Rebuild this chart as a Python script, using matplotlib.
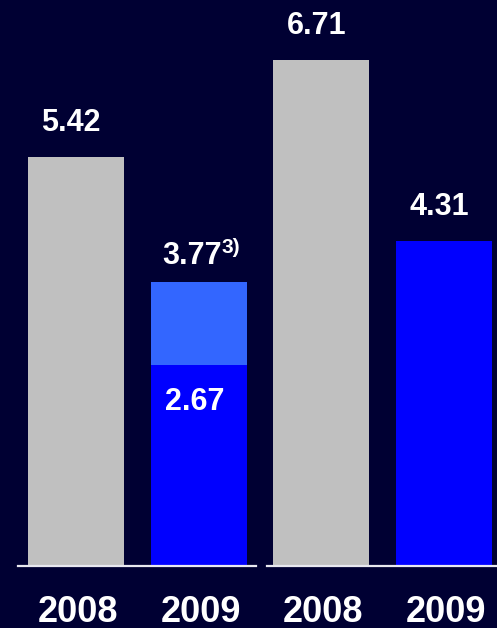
import matplotlib
matplotlib.use("Agg")
import matplotlib.pyplot as plt

plt.rcParams['font.family'] = ['Liberation Sans', 'DejaVu Sans']

years = ['2008', '2009', '2008', '2009']
base_values = [5.42, 2.67, 6.71, 4.31]
totals = [5.42, 3.77, 6.71, 4.31]
base_colors = ['#C0C0C0', '#0000FF', '#C0C0C0', '#0000FF']
top_color = '#3366FF'
footnote = '3)'

BG = '#000033'

fig = plt.figure(figsize=(4.97, 6.28), dpi=100, facecolor=BG)
ax = fig.add_axes([0, 62 / 628, 1, 566 / 628])
ax.set_facecolor(BG)
for s in ax.spines.values():
    s.set_visible(False)
ax.set_xticks([])
ax.set_yticks([])

x = list(range(len(years)))
width = 0.783
ax.bar(x, base_values, width=width, color=base_colors, zorder=2)
extra = [t - b for t, b in zip(totals, base_values)]
ax.bar(x, extra, bottom=base_values, width=width, color=top_color, zorder=2)

ax.set_xlim(-0.6196, 3.432)
ax.set_ylim(0, 7.507)

# baselines
ax.axhline(0, xmin=18 / 497, xmax=256 / 497, color='#E8E8F0', lw=1.6, clip_on=False, zorder=3)
ax.axhline(0, xmin=267 / 497, xmax=1.0, color='#E8E8F0', lw=1.6, clip_on=False, zorder=3)

# total labels
for i, t in enumerate(totals):
    if extra[i] > 0:
        ax.annotate(f'{t:.2f}', xy=(i, t), xytext=(-5, 12.5), textcoords='offset points',
                    ha='center', va='baseline', color='white', fontsize=22, fontweight='bold')
        ax.annotate(footnote, xy=(i, t), xytext=(16.5, 20.5), textcoords='offset points',
                    ha='left', va='baseline', color='white', fontsize=15, fontweight='bold')
    else:
        ax.annotate(f'{t:.2f}', xy=(i, t), xytext=(-3.5, 18.7), textcoords='offset points',
                    ha='center', va='baseline', color='white', fontsize=22, fontweight='bold')

# inner label for stacked base
for i, (b, e) in enumerate(zip(base_values, extra)):
    if e > 0:
        ax.annotate(f'{b:.2f}', xy=(i, b), xytext=(-3, -32.5), textcoords='offset points',
                    ha='center', va='baseline', color='white', fontsize=22, fontweight='bold')

# year labels
for i, y in enumerate(years):
    ax.text(i + 0.015, -(62 - 6) / 566, y, transform=ax.get_xaxis_transform(),
            ha='center', va='baseline', color='white', fontsize=26, fontweight='bold')

fig.savefig('out.png', dpi=100, facecolor=BG)
